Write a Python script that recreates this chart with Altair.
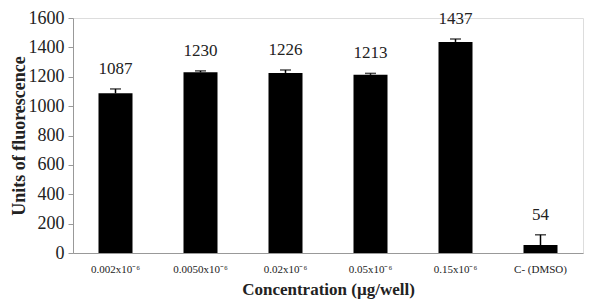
import altair as alt
import pandas as pd

categories = ["0.002x10⁻⁶", "0.0050x10⁻⁶", "0.02x10⁻⁶", "0.05x10⁻⁶", "0.15x10⁻⁶", "C- (DMSO)"]
values = [1087, 1230, 1226, 1213, 1437, 54]
errors = [30, 10, 20, 10, 20, 70]
labels = ["1087", "1230", "1226", "1213", "1437", "54"]
y_ticks = [0, 200, 400, 600, 800, 1000, 1200, 1400, 1600]

df = pd.DataFrame({
    "cat": categories,
    "val": values,
    "err": errors,
    "lab": labels,
})
df["up"] = df["val"] + df["err"]

FONT = "Liberation Serif, Times New Roman, serif"

x = alt.X("cat:N", sort=categories,
          scale=alt.Scale(paddingInner=0.6, paddingOuter=0.3),
          axis=alt.Axis(title="Concentration (µg/well)", labelAngle=0, ticks=False,
                        labelFontSize=11, labelFont=FONT, labelColor="#222",
                        labelOverlap=False,
                        titleFont=FONT, titleFontSize=17, titleFontWeight="bold",
                        titleColor="#222", titlePadding=7, labelPadding=10,
                        domainColor="#999"))
yscale = alt.Scale(domain=[0, 1600])
yaxis = alt.Axis(title="Units of fluorescence", values=y_ticks,
                 format="d", labelOverlap=False, tickCount=20,
                 grid=False, tickSize=5, tickColor="#999", domainColor="#999",
                 labelFont=FONT, labelFontSize=18, labelColor="#222", labelPadding=4,
                 titleFont=FONT, titleFontSize=18, titleFontWeight="bold",
                 titleColor="#222", titlePadding=0)

base = alt.Chart(df)
bars = base.mark_bar(color="black").encode(x=x, y=alt.Y("val:Q", scale=yscale, axis=yaxis))
err = base.mark_rule(color="black", strokeWidth=1.5).encode(
    x=alt.X("cat:N", sort=categories),
    y=alt.Y("val:Q", scale=yscale, axis=yaxis), y2="up:Q")
cap = base.mark_tick(color="black", size=11, thickness=1.5, orient="horizontal").encode(
    x=alt.X("cat:N", sort=categories), y=alt.Y("up:Q", scale=yscale, axis=yaxis))
txt = base.mark_text(font=FONT, fontSize=17, color="#222", dy=-20).encode(
    x=alt.X("cat:N", sort=categories), y=alt.Y("up:Q", scale=yscale, axis=yaxis), text="lab:N")

chart = alt.layer(bars, err, cap, txt).properties(
    width=510, height=235,
    autosize=alt.AutoSizeParams(type="none"),
    padding={"left": 65, "top": 10, "right": 9, "bottom": 48},
).configure_view(stroke=None).configure(background="white")

chart.save("out.html", embed_options={"renderer": "svg", "actions": False})
